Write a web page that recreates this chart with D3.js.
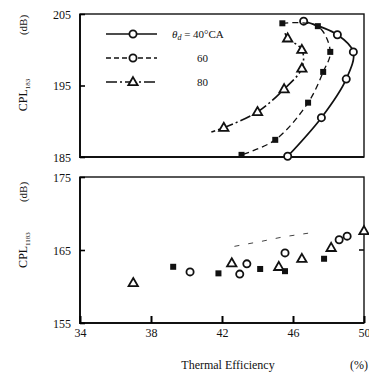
<!DOCTYPE html>
<html lang="en">
<head>
    <meta charset="UTF-8">
    <script type="text/javascript" src="https://cdn.jsdelivr.net/npm/d3@7/dist/d3.min.js"></script>
    <title>CPL vs thermal efficiency</title>
    <style>
        body { margin: 0; background: #fff; }
        text { font-family: "Liberation Serif", "DejaVu Serif", serif; fill: #111; }
    </style>
</head>
<body>
<script>
    // top panel: CPL183 against thermal efficiency, one curve per theta_d
    let eff40 = [46.6, 48.5, 49.4, 49.0, 47.6, 45.7];
    let cpl40 = [204.0, 202.1, 199.7, 195.9, 190.5, 185.1];
    let eff60 = [45.4, 47.4, 48.1, 47.7, 46.85, 45.0, 43.1];
    let cpl60 = [203.7, 203.3, 199.7, 196.9, 192.6, 187.4, 185.3];
    let eff80 = [45.55, 45.7, 46.5, 46.5, 45.5, 44.0, 42.1, 41.4];
    let cpl80 = [202.3, 201.6, 200.0, 197.4, 194.5, 191.3, 189.1, 188.5];
    let mark80 = [0, 1, 1, 1, 1, 1, 1, 0];

    // bottom panel: CPL1183 scatter
    let effB40 = [40.2, 43.0, 43.4, 45.55, 48.6, 49.05];
    let cplB40 = [162.0, 161.7, 163.1, 164.6, 166.4, 166.9];
    let effB60 = [39.25, 41.8, 44.15, 45.55, 47.75];
    let cplB60 = [162.7, 161.8, 162.4, 162.1, 163.8];
    let effB80 = [37.0, 42.55, 45.2, 46.5, 48.15, 50.0];
    let cplB80 = [160.5, 163.2, 162.7, 163.8, 165.3, 167.6];
    let effTrend = [42.7, 44.25, 45.45, 46.85];
    let cplTrend = [165.5, 166.2, 166.8, 167.3];

    let xTicks = [34, 38, 42, 46, 50];
    let yTicksTop = [185, 195, 205];
    let yTicksBot = [155, 165, 175];
    let legendNames = ["40°CA", "60", "80"];

    let width = 369, height = 375;
    let svg = d3.select("body").append("svg")
        .attr("width", width)
        .attr("height", height);

    let x = d3.scaleLinear().domain([34, 50]).range([80, 364]);
    let yTop = d3.scaleLinear().domain([185, 205]).range([157, 14]);
    let yBot = d3.scaleLinear().domain([155, 175]).range([323, 177]);

    function frame(y, yTicks, xLabels) {
        let g = svg.append("g");
        let [y0, y1] = y.range();
        // box
        g.append("rect")
            .attr("x", x(34)).attr("y", y1)
            .attr("width", x(50) - x(34)).attr("height", y0 - y1)
            .attr("fill", "none").attr("stroke", "#111").attr("stroke-width", 1.4);
        // thicker left and bottom
        g.append("path")
            .attr("d", "M" + x(34) + "," + y1 + "V" + y0 + "H" + x(50))
            .attr("fill", "none").attr("stroke", "#111").attr("stroke-width", 2);

        let yAxis = d3.axisLeft(y).tickValues(yTicks).tickSize(-5).tickPadding(9);
        let ya = g.append("g").attr("transform", "translate(" + x(34) + ",0)").call(yAxis);
        ya.select(".domain").remove();
        ya.selectAll("line").attr("stroke-width", 1.6);
        ya.selectAll("text").style("font-size", "12px").attr("dy", "0.35em");

        if (xLabels) {
            let xAxis = d3.axisBottom(x).tickValues(xTicks).tickSize(-7).tickPadding(5);
            let xa = g.append("g").attr("transform", "translate(0," + y0 + ")").call(xAxis);
            xa.select(".domain").remove();
            xa.selectAll("line").attr("stroke-width", 2);
            xa.selectAll("text").style("font-size", "12px");
            // right-side tick at the middle value
            g.append("line")
                .attr("x1", x(50)).attr("x2", x(50) - 5)
                .attr("y1", y(yTicks[1])).attr("y2", y(yTicks[1]))
                .attr("stroke", "#111").attr("stroke-width", 1.6);
        }
    }

    frame(yTop, yTicksTop, false);
    frame(yBot, yTicksBot, true);

    // marker drawing helpers
    function circle(g, cx, cy) {
        g.append("circle").attr("cx", cx).attr("cy", cy).attr("r", 3.6)
            .attr("fill", "#fff").attr("stroke", "#111").attr("stroke-width", 1.8);
    }
    function square(g, cx, cy) {
        g.append("rect").attr("x", cx - 3).attr("y", cy - 3)
            .attr("width", 6).attr("height", 6).attr("fill", "#111");
    }
    let tri = d3.symbol().type(d3.symbolTriangle).size(38);
    function triangle(g, cx, cy) {
        g.append("path").attr("d", tri())
            .attr("transform", "translate(" + cx + "," + (cy + 0.5) + ")")
            .attr("fill", "#fff").attr("stroke", "#111").attr("stroke-width", 1.8);
    }

    // top panel curves
    let curves = [
        {xs: eff40, ys: cpl40, dash: null, w: 1.7, marker: circle},
        {xs: eff60, ys: cpl60, dash: "6,4", w: 1.3, marker: square},
        {xs: eff80, ys: cpl80, dash: "11,3,2,3", w: 1.6, marker: triangle, marks: mark80}
    ];
    let line = d3.line()
        .x(d => x(d[0]))
        .y(d => yTop(d[1]))
        .curve(d3.curveCatmullRom);

    curves.forEach(c => {
        let pts = c.xs.map((v, i) => [v, c.ys[i]]);
        svg.append("path")
            .attr("d", line(pts))
            .attr("fill", "none")
            .attr("stroke", "#111")
            .attr("stroke-width", c.w)
            .attr("stroke-dasharray", c.dash);
        let g = svg.append("g");
        pts.forEach((p, i) => {
            if (c.marks && !c.marks[i]) return;
            c.marker(g, x(p[0]), yTop(p[1]));
        });
    });

    // legend
    let legendStyles = [
        {dash: null, w: 1.7, marker: circle},
        {dash: "5,3", w: 1.6, marker: circle},
        {dash: "11,3,2,3", w: 1.6, marker: triangle}
    ];
    let lg = svg.append("g");
    legendStyles.forEach((s, i) => {
        let ly = 34 + i * 24;
        lg.append("line")
            .attr("x1", 106).attr("x2", 157).attr("y1", ly).attr("y2", ly)
            .attr("stroke", "#111").attr("stroke-width", s.w)
            .attr("stroke-dasharray", s.dash);
        s.marker(lg, 133, ly);
    });
    let t0 = lg.append("text").attr("x", 172).attr("y", 38).style("font-size", "11px");
    t0.append("tspan").style("font-style", "italic").text("θ");
    t0.append("tspan").style("font-style", "italic").style("font-size", "8px").attr("dy", 2).text("d");
    t0.append("tspan").attr("dy", -2).text(" = " + legendNames[0]);
    lg.append("text").attr("x", 197).attr("y", 62).style("font-size", "11px").text(legendNames[1]);
    lg.append("text").attr("x", 197).attr("y", 86).style("font-size", "11px").text(legendNames[2]);

    // bottom panel scatter
    let bg = svg.append("g");
    bg.append("path")
        .attr("d", d3.line().x(d => x(d[0])).y(d => yBot(d[1]))(effTrend.map((v, i) => [v, cplTrend[i]])))
        .attr("fill", "none").attr("stroke", "#444").attr("stroke-width", 1)
        .attr("stroke-dasharray", "5,9");
    effB60.forEach((v, i) => square(bg, x(v), yBot(cplB60[i])));
    effB40.forEach((v, i) => circle(bg, x(v), yBot(cplB40[i])));
    effB80.forEach((v, i) => triangle(bg, x(v), yBot(cplB80[i])));

    // axis titles
    function yTitle(cx, cy, sub) {
        let t = svg.append("text")
            .attr("transform", "translate(" + cx + "," + cy + ") rotate(-90)")
            .attr("text-anchor", "middle")
            .style("font-size", "12px");
        t.append("tspan").text("CPL");
        t.append("tspan").style("font-size", "7px").attr("dy", 3).text(sub);
    }
    yTitle(27, 95, "183");
    yTitle(27, 250, "1183");
    svg.append("text").attr("transform", "translate(27,25) rotate(-90)")
        .attr("text-anchor", "middle").style("font-size", "11px").text("(dB)");
    svg.append("text").attr("transform", "translate(27,192) rotate(-90)")
        .attr("text-anchor", "middle").style("font-size", "11px").text("(dB)");

    svg.append("text").attr("x", 228).attr("y", 369)
        .attr("text-anchor", "middle").style("font-size", "12px").text("Thermal Efficiency");
    svg.append("text").attr("x", 350).attr("y", 369)
        .style("font-size", "12px").text("(%)");
</script>
</body>
</html>
